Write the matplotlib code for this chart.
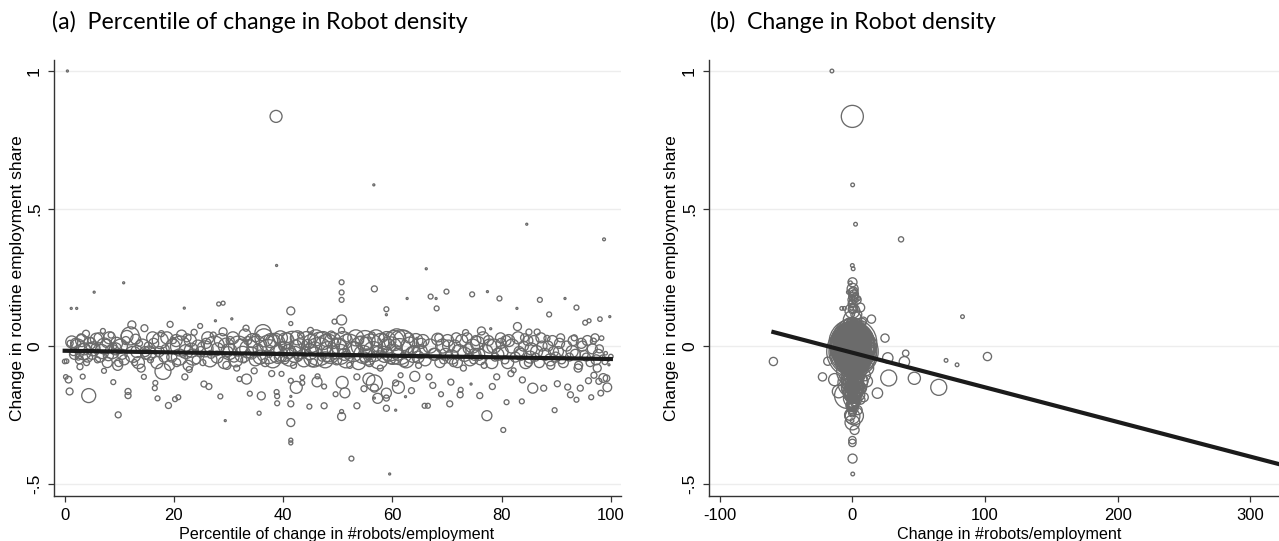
import matplotlib.pyplot as plt
import numpy as np

# percentile rank of the change in robots per worker (panel a, x)
pct = [
    0.0, 0.2, 0.35, 0.5, 0.7, 0.9, 1.0, 1.2, 1.6, 2.0, 2.2, 2.5, 2.8, 3.0, 3.3, 3.6, 3.9, 4.0, 4.4, 4.8, 5.0, 5.4,
    5.6, 6.0, 6.3, 6.8, 7.0, 7.2, 7.6, 8.0, 8.5, 8.9, 9.0, 9.3, 9.8, 9.9,
    10.5, 10.8, 11.2, 11.6, 11.6, 12.0, 12.3, 12.8, 13.2, 13.7, 14.0, 14.5, 14.6, 14.9,
    15.3, 15.7, 16.1, 16.5, 16.6, 17.0, 17.3, 17.7, 18.0, 18.4, 19.0, 19.3, 19.6, 19.9,
    20.2, 20.5, 20.8, 21.2, 21.6, 21.9, 22.0, 22.4, 22.8, 23.2, 23.7, 24.1, 24.8, 24.9,
    25.3, 25.5, 25.9, 26.4, 26.8, 27.2, 27.6, 28.0, 28.2, 28.5, 29.0, 29.0, 29.4, 29.7, 29.9,
    30.3, 30.6, 31.0, 31.5, 32.0, 32.3, 32.8, 33.2, 33.5, 33.9, 34.2, 34.7, 35.0,
    35.4, 35.6, 36.0, 36.3, 36.7, 37.1, 37.5, 37.9, 38.3, 38.7, 38.8, 38.8, 38.9, 38.9, 39.3, 39.7, 39.9,
    40.3, 40.7, 41.0, 41.4, 41.4, 41.4, 41.4, 41.4, 41.4, 41.4, 41.4, 41.9, 42.3, 42.8, 43.2, 43.5, 43.5, 44.0, 44.5, 44.8,
    45.0, 45.4, 45.8, 46.3, 46.8, 47.1, 47.5, 47.5, 47.9, 48.3, 48.8, 49.4, 49.6, 49.8,
    50.2, 50.7, 50.7, 50.7, 50.7, 50.7, 50.7, 50.7, 50.8, 51.2, 51.7, 52.2, 52.5, 53.0, 53.5, 53.5, 54.0, 54.8, 54.9,
    55.3, 55.8, 56.3, 56.6, 56.7, 56.7, 56.7, 56.7, 57.2, 57.8, 58.3, 58.9, 58.9, 58.9, 58.9, 58.9, 59.3, 59.5, 59.8,
    60.3, 60.6, 60.6, 61.0, 61.5, 61.7, 62.2, 62.4, 62.7, 63.0, 63.5, 64.0, 64.5, 64.8,
    65.3, 65.9, 66.2, 66.5, 66.7, 67.0, 67.4, 67.8, 68.0, 68.1, 68.5, 68.9, 69.4, 69.9,
    70.3, 70.5, 70.7, 71.2, 71.7, 72.2, 72.4, 72.5, 73.0, 73.4, 73.9, 74.4, 74.6, 74.9,
    75.3, 75.8, 76.0, 76.3, 76.8, 77.3, 77.4, 77.8, 78.0, 78.3, 78.8, 79.1, 79.6, 79.9,
    80.3, 80.6, 80.9, 81.3, 81.7, 82.2, 82.8, 82.9, 83.2, 83.7, 83.8, 84.2, 84.6, 84.9,
    85.0, 85.4, 85.7, 86.2, 86.5, 87.0, 87.4, 87.7, 88.3, 88.7, 89.0, 89.5, 89.7,
    90.2, 90.6, 91.0, 91.6, 92.1, 92.6, 92.9, 93.3, 93.7, 93.7, 94.1, 94.4, 94.8,
    95.3, 95.5, 95.9, 96.0, 96.4, 96.8, 96.9, 97.3, 97.8, 97.9,
    98.0, 98.15, 98.3, 98.45, 98.6, 98.75, 98.9, 99.05, 99.2, 99.35, 99.5, 99.65, 99.8, 100.0,
]

# change in routine employment share (y, both panels)
share = [
    -.056, -.112, -.055, 1.0, -.122, -.165, .01, .137, -.02, .01, .137, -.04, -.075, .03, -.111, -.01, .045, -.06, -.18, .02, -.03, .196,
    -.005, -.05, .03, -.02, .055, -.09, .01, -.035, .04, -.131, 0.0, -.01, -.25, -.06,
    -.03, .23, .02, -.165, -.18, .037, .077, -.06, -.02, .01, -.08, -.112, .065, -.03,
    0.0, -.05, .03, -.153, -.134, -.19, -.02, .045, -.092, -.01, -.216, .079, -.04, .02,
    -.193, -.06, -.186, 0.0, -.03, .138, -.112, .03, -.085, -.015, .05, -.05, .073, -.02,
    -.06, -.138, .01, -.147, -.03, .04, .092, -.01, .153, -.183, .156, .052, -.271, -.07, -.02,
    .02, .099, -.04, -.08, -.12, 0.0, -.05, .065, .02, -.173, -.025, -.09, .03,
    -.01, -.244, -.181, .049, -.06, .01, -.03, -.1, .02, .835, .293, -.167, -.182, -.208, -.04, -.101, 0.0,
    -.05, .03, -.02, .128, .082, -.126, -.183, -.21, -.278, -.342, -.352, -.07, 0.0, -.04, .04, -.114, -.134, -.02, .01, -.22,
    .057, -.06, -.01, -.11, .007, -.04, -.217, -.147, .02, -.02, .04, .089, -.175, -.05,
    0.0, .232, .195, .168, .095, .057, -.238, -.256, -.132, -.03, .03, -.07, -.409, -.01, -.217, -.112, .02, -.155, -.04,
    .01, -.06, .04, .586, .208, -.134, -.153, -.189, -.02, -.08, .03, .134, .114, -.171, -.189, -.226, 0.0, -.465, -.05,
    .02, -.134, -.233, -.03, -.106, .012, -.06, -.184, .173, .03, -.162, -.02, .028, -.07,
    .01, -.217, .281, -.217, -.112, .18, -.143, -.03, .173, .137, .03, -.175, -.05, .198,
    0.0, -.21, -.131, -.06, .03, -.02, -.177, -.159, -.08, .049, -.01, -.138, .188, -.05,
    .02, -.03, -.18, .055, -.07, -.253, .198, 0.0, .063, -.147, -.04, -.112, .173, .01,
    -.305, -.05, -.204, .02, -.1, -.088, .137, .071, -.02, -.201, -.123, .03, .443, -.06,
    .051, -.01, -.153, -.04, .051, .168, 0.0, -.153, .028, .115, -.07, -.02, -.233,
    -.137, .01, -.05, .173, -.149, -.177, -.02, .03, .14, -.195, -.07, -.153, 0.0,
    .085, -.04, -.126, .092, -.186, .018, -.106, -.05, -.128, -.01,
    .098, -.171, .029, -.043, -.116, .388, -.057, -.026, -.117, -.15, -.052, -.068, .107, -.038,
]

# employment weight of each region (marker area)
weight = [
    5, 5, 5, 1, 11, 12, 9, 1, 16, 25, 1, 9, 9, 16, 6, 36, 12, 9, 49, 9, 25, 1,
    16, 9, 25, 49, 6, 6, 16, 25, 9, 6, 9, 36, 9, 16,
    25, 1, 16, 9, 9, 81, 16, 9, 36, 9, 16, 6, 12, 25,
    16, 9, 36, 6, 6, 6, 25, 9, 64, 16, 9, 9, 25, 9,
    6, 16, 6, 100, 9, 1, 9, 16, 9, 49, 9, 16, 6, 25,
    9, 9, 25, 9, 16, 9, 1, 36, 4, 6, 4, 16, 1, 16, 25,
    16, 1, 25, 9, 6, 49, 9, 9, 16, 6, 36, 9, 16,
    25, 4, 16, 64, 16, 64, 9, 9, 36, 36, 1, 6, 6, 6, 25, 6, 16,
    16, 25, 49, 16, 4, 6, 1, 9, 16, 4, 4, 9, 36, 16, 9, 6, 6, 25, 16, 6,
    9, 16, 49, 6, 144, 16, 9, 6, 36, 100, 16, 6, 6, 25,
    64, 6, 6, 6, 25, 9, 4, 16, 36, 36, 16, 9, 6, 49, 9, 9, 16, 9, 25,
    36, 16, 9, 1, 9, 64, 16, 1, 25, 9, 16, 6, 1, 25, 9, 9, 49, 1, 16,
    100, 9, 1, 36, 6, 169, 16, 1, 1, 25, 9, 36, 1, 9,
    25, 6, 1, 6, 9, 6, 9, 36, 1, 6, 16, 6, 16, 6,
    36, 9, 9, 16, 25, 49, 9, 6, 9, 9, 25, 1, 6, 16,
    25, 36, 9, 16, 9, 25, 1, 49, 1, 9, 16, 9, 6, 25,
    6, 16, 6, 36, 9, 6, 1, 16, 25, 6, 9, 16, 1, 16,
    9, 36, 25, 16, 9, 6, 25, 9, 9, 6, 16, 25, 6,
    9, 25, 16, 1, 9, 9, 36, 9, 6, 6, 16, 9, 25,
    6, 16, 9, 4, 6, 9, 9, 25, 9, 16,
    5, 8, 5, 8, 19, 2, 8, 3, 11, 19, 1, 1, 1, 5,
]

# change in #robots/employment (panel b, x)
robots = [
    -59.5, -22.5, -18.5, -15.4, -13.3, -10.3, -9, -8, -7, -6.5, -6, -5.5, -5.2, -5, -4.6, -4.3, -4.1, -4, -3.7, -3.4, -3.2, -3.0,
    -2.9, -2.8, -2.7, -2.5, -2.45, -2.4, -2.3, -2.2, -2.0, -1.9, -1.85, -1.8, -1.7, -1.6,
    -1.5, -1.45, -1.4, -1.35, -1.33, -1.3, -1.25, -1.2, -1.15, -1.1, -1.05, -1.0, -0.98, -0.95,
    -.92, -.9, -.87, -.85, -.84, -.82, -.8, -.78, -.76, -.74, -.72, -.7, -.67, -.65,
    -.62, -.6, -.58, -.56, -.54, -.52, -.51, -.5, -.48, -.46, -.44, -.42, -.4, -.39,
    -.38, -.37, -.36, -.35, -.33, -.32, -.31, -.3, -.29, -.28, -.27, -.26, -.25, -.24, -.23,
    -.22, -.21, -.2, -.18, -.17, -.16, -.14, -.13, -.12, -.11, -.1, -.09, -.08,
    -.07, -.065, -.06, -.055, -.05, -.045, -.04, -.035, -.03, -.025, -.02, -.018, -.016, -.015, -.012, -.01, -.005,
    0.0, .005, .01, .012, .014, .016, .018, .02, .022, .024, .026, .03, .035, .04, .045, .05, .052, .055, .06, .062,
    .065, .068, .07, .072, .075, .078, .082, .084, .086, .088, .09, .092, .094, .096,
    .1, .105, .11, .115, .12, .125, .13, .135, .14, .145, .15, .155, .16, .165, .17, .175, .18, .185, .19,
    .195, .2, .205, .21, .215, .22, .225, .23, .235, .24, .245, .25, .255, .26, .265, .27, .275, .28, .285,
    .3, .32, .34, .36, .38, .4, .42, .44, .46, .48, .5, .52, .54, .56,
    .58, .6, .62, .64, .66, .68, .7, .72, .74, .76, .78, .8, .82, .84,
    .86, .88, .9, .93, .96, .99, 1.02, 1.05, 1.08, 1.11, 1.14, 1.17, 1.2, 1.23,
    1.26, 1.29, 1.32, 1.35, 1.38, 1.41, 1.44, 1.47, 1.5, 1.52, 1.54, 1.56, 1.58, 1.6,
    1.7, 1.8, 1.9, 2.0, 2.05, 2.1, 2.15, 2.2, 2.25, 2.3, 2.32, 2.35, 2.4, 2.5,
    2.6, 2.7, 2.8, 2.9, 3.0, 3.2, 3.4, 3.5, 3.6, 3.7, 3.8, 3.9, 4.0,
    4.2, 4.4, 4.6, 4.8, 5.0, 5.2, 5.4, 5.6, 5.9, 6.1, 6.3, 6.5, 6.8,
    7.0, 7.4, 7.8, 8.2, 8.6, 9.0, 9.5, 10.0, 11.0, 12.0,
    14.4, 18.9, 24.6, 26.7, 27.4, 36.7, 39.2, 40.2, 46.7, 65.1, 70.6, 78.9, 83.0, 101.8,
]

# the crowded band of regions around the fit line
band_pct = [
    1.3, 1.8, 2.4, 2.7, 3.1, 3.4, 4.2, 4.6, 5.2,
    5.8, 6.5, 7.3, 7.8, 8.2, 8.7, 9.5, 9.7,
    10.2, 10.9, 11.4, 12.5, 13.0, 13.5, 14.2, 14.7,
    15.5, 16.3, 16.9, 17.5, 18.2, 18.7, 19.2, 19.8,
    20.4, 21.0, 21.4, 22.2, 22.6, 23.0, 23.5, 24.4,
    25.7, 26.2, 26.6, 27.4, 27.9, 28.7, 29.2, 29.6,
    30.1, 30.8, 31.3, 31.8, 32.6, 33.0, 33.3, 33.7, 34.4, 34.9,
    35.2, 35.8, 36.5, 37.3, 37.7, 38.1, 38.5, 39.1, 39.5,
    40.1, 40.5, 41.2, 41.7, 42.1, 42.4, 42.6, 43.0, 43.8, 44.3, 44.9,
    45.2, 45.6, 46.0, 46.2, 46.5, 47.3, 47.7, 48.1, 48.6, 49.1, 49.9,
    50.4, 51.0, 51.3, 51.5, 52.0, 52.8, 53.3, 53.8, 54.3, 54.6,
    55.0, 55.5, 55.7, 56.0, 56.5, 57.0, 57.3, 57.5, 58.0, 58.6, 59.0, 59.6,
    60.1, 60.8, 61.1, 61.3, 62.0, 62.5, 63.2, 63.8, 64.1, 64.3, 64.7,
    65.1, 65.6, 66.0, 66.9, 67.6, 68.3, 68.7, 69.2, 69.7,
    70.1, 70.9, 71.4, 71.9, 72.7, 73.2, 73.7, 74.2, 74.7,
    75.1, 75.6, 76.1, 76.6, 77.1, 77.6, 78.2, 78.6, 79.3, 79.8,
    80.1, 80.8, 81.1, 81.9, 82.5, 83.0, 83.5, 84.0, 84.4, 84.8,
    85.2, 85.9, 86.4, 86.9, 87.2, 87.9, 88.5, 88.9, 89.3, 89.9,
    90.4, 90.8, 91.3, 91.9, 92.4, 93.1, 93.5, 94.0, 94.6,
    95.1, 95.7, 96.2, 96.6, 97.1, 97.5, 97.7,
]
band_share = [
    .015, -.03, 0.0, -.05, .02, -.02, -.04, .01, -.01,
    .025, -.04, 0.0, -.06, .03, -.02, .01, -.07,
    0.0, -.05, .035, -.03, .025, -.06, 0.0, -.02,
    -.025, .01, -.06, .02, -.04, .03, -.07, 0.0,
    .02, -.04, .04, -.02, -.07, .02, -.04, 0.0,
    -.01, .03, -.05, 0.0, -.04, .02, -.06, 0.0,
    -.02, .03, -.05, 0.0, -.03, .04, -.12, -.01, .02, -.05,
    0.0, -.04, .03, -.02, .02, -.05, .01, -.03, .03,
    -.02, .02, -.04, .01, -.03, -.15, .03, -.01, -.05, .02, -.02,
    .01, -.04, .03, -.13, -.02, .02, -.05, 0.0, -.03, .02, -.01,
    -.03, .02, -.17, -.05, 0.0, -.02, .03, -.06, 0.0, -.03,
    .02, -.04, -.12, 0.0, -.02, .03, -.19, -.05, .01, -.03, .02, -.01,
    -.03, .03, -.15, -.02, .02, -.05, 0.0, -.03, -.11, .02, -.04,
    -.02, .02, -.05, 0.0, -.03, .025, -.06, 0.0, -.03,
    .02, -.04, 0.0, -.06, .02, -.03, .03, -.05, 0.0,
    -.03, .01, -.05, .03, -.02, .02, -.06, 0.0, -.03, .03,
    -.02, .02, -.06, 0.0, -.04, .03, -.03, 0.0, -.06, .02,
    -.04, .02, -.02, -.06, .03, -.03, 0.0, -.05, .02, -.04,
    -.02, .03, -.06, 0.0, -.04, .02, -.03, -.08, .01,
    -.03, .02, -.06, -.01, .03, -.08, -.03,
]
band_weight = [
    36, 25, 49, 16, 36, 64, 25, 36, 49,
    36, 25, 64, 25, 36, 49, 36, 25,
    49, 25, 36, 64, 25, 36, 49, 25,
    49, 25, 36, 64, 25, 36, 25, 49,
    36, 64, 25, 49, 25, 36, 64, 36,
    64, 36, 49, 100, 36, 49, 36, 64,
    64, 36, 49, 100, 64, 36, 25, 81, 49, 36,
    100, 49, 81, 144, 49, 64, 100, 81, 49,
    100, 64, 81, 144, 64, 36, 49, 100, 49, 81, 64,
    81, 100, 64, 25, 196, 81, 64, 144, 81, 64, 100,
    100, 81, 25, 64, 144, 100, 64, 49, 100, 81,
    100, 64, 36, 144, 100, 64, 25, 81, 100, 64, 81, 144,
    100, 81, 36, 169, 100, 64, 81, 64, 25, 49, 36,
    49, 36, 36, 49, 36, 36, 25, 49, 36,
    36, 49, 36, 25, 36, 49, 25, 36, 49,
    36, 49, 25, 36, 49, 25, 36, 49, 36, 25,
    36, 25, 36, 49, 25, 36, 36, 25, 36, 25,
    36, 25, 36, 25, 25, 36, 25, 36, 25, 25,
    25, 16, 25, 25, 16, 25, 25, 16, 25,
    16, 25, 16, 25, 16, 16, 25,
]
band_robots = [
    -7.5, -6.8, -5.8, -5.3, -4.9, -4.5, -3.9, -3.5, -3.1,
    -2.85, -2.6, -2.35, -2.25, -2.1, -1.95, -1.75, -1.65,
    -1.52, -1.42, -1.37, -1.22, -1.17, -1.12, -1.02, -0.96,
    -.91, -.86, -.83, -.79, -.75, -.73, -.71, -.66,
    -.61, -.57, -.55, -.505, -.49, -.47, -.45, -.41,
    -.365, -.355, -.34, -.315, -.305, -.285, -.265, -.245,
    -.225, -.205, -.19, -.175, -.15, -.135, -.125, -.115, -.095, -.085,
    -.075, -.062, -.052, -.042, -.037, -.032, -.028, -.013, -.011,
    -.002, .003, .011, .028, .032, .036, .038, .042, .054, .058, .063,
    .066, .069, .071, .073, .074, .08, .085, .087, .089, .091, .098,
    .102, .142, .147, .148, .152, .162, .168, .178, .182, .184,
    .192, .197, .199, .202, .207, .232, .236, .237, .242, .247, .267, .283,
    .29, .35, .365, .37, .41, .45, .49, .51, .525, .53, .55,
    .57, .59, .61, .67, .71, .77, .79, .81, .83,
    .85, .91, .94, .97, 1.06, 1.09, 1.12, 1.15, 1.21,
    1.25, 1.28, 1.33, 1.37, 1.4, 1.46, 1.51, 1.53, 1.57, 1.59,
    1.65, 1.85, 1.95, 2.07, 2.12, 2.22, 2.28, 2.33, 2.37, 2.45,
    2.65, 2.85, 2.95, 3.1, 3.3, 3.55, 3.65, 3.75, 3.85, 4.1,
    4.3, 4.5, 4.7, 4.9, 5.1, 5.5, 5.7, 6.2, 6.6,
    6.9, 7.6, 8.4, 8.8, 9.8, 10.5, 10.8,
]

# weighted linear fits: intercept, slope
fit_a = [-0.017, -0.0003]
fit_b = [-0.024, -0.00126]

x_pct = np.array(pct + band_pct)
y_share = np.array(share + band_share)
w = np.array(weight + band_weight)
x_rob = np.array(robots + band_robots)

plt.rcParams['font.family'] = ['Liberation Sans', 'DejaVu Sans']

W, H = 1279, 541
fig = plt.figure(figsize=(W / 100, H / 100), dpi=100)
ax1 = fig.add_axes([54.3 / W, 45 / H, 566.4 / W, 436 / H])
ax2 = fig.add_axes([709.3 / W, 45 / H, 569.7 / W, 436 / H])

grey = '#6b6b6b'

ax1.scatter(x_pct, y_share, s=2.07 * w, facecolors='none', edgecolors=grey,
            linewidths=0.95, zorder=2)
xa = np.array([0, 100])
ax1.plot(xa, fit_a[0] + fit_a[1] * xa, color='#1b1b1b', lw=3.0, zorder=3)

ax2.scatter(x_rob, y_share, s=7.0 * w, facecolors='none', edgecolors=grey,
            linewidths=0.95, zorder=2)
xb = np.array([x_rob.min(), 340])
ax2.plot(xb, fit_b[0] + fit_b[1] * xb, color='#1b1b1b', lw=3.0, zorder=3)


def style(ax, xlim, xticks, xlabel, xlab_x, ylab_x):
    ax.set_xlim(*xlim)
    ax.set_ylim(-0.545, 1.04)
    ax.spines[['top', 'right']].set_visible(False)
    for s in ['left', 'bottom']:
        ax.spines[s].set_color('#333333')
        ax.spines[s].set_linewidth(1.0)
    ax.set_yticks([-.5, 0, .5, 1])
    ax.set_yticklabels(['-.5', '0', '.5', '1'], rotation=90, va='center',
                       fontsize=12.5)
    ax.set_xticks(xticks)
    ax.set_xticklabels([str(t) for t in xticks], fontsize=12)
    ax.tick_params(direction='out', length=4.3, width=0.9, color='#333333', pad=4.5)
    ax.yaxis.grid(True, color='#ededed', lw=1.0)
    ax.set_axisbelow(True)
    ax.set_ylabel('Change in routine employment share', fontsize=12.5)
    ax.yaxis.set_label_coords(ylab_x, 0.5)
    ax.set_xlabel(xlabel, fontsize=11.6)
    ax.xaxis.set_label_coords(xlab_x, -0.071)


style(ax1, (-1.9, 101.8), [0, 20, 40, 60, 80, 100],
      'Percentile of change in #robots/employment', 0.498, -0.052)
style(ax2, (-107.8, 321.5), [-100, 0, 100, 200, 300],
      'Change in #robots/employment', 0.526, -0.053)

fig.text(52 / W, 1 - 22 / H, '(a)  Percentile of change in Robot density',
         family=['Lato', 'DejaVu Sans'], fontsize=16.7, va='center')
fig.text(710 / W, 1 - 22 / H, '(b)  Change in Robot density',
         family=['Lato', 'DejaVu Sans'], fontsize=16.7, va='center')

fig.savefig('out.png', dpi=100)
